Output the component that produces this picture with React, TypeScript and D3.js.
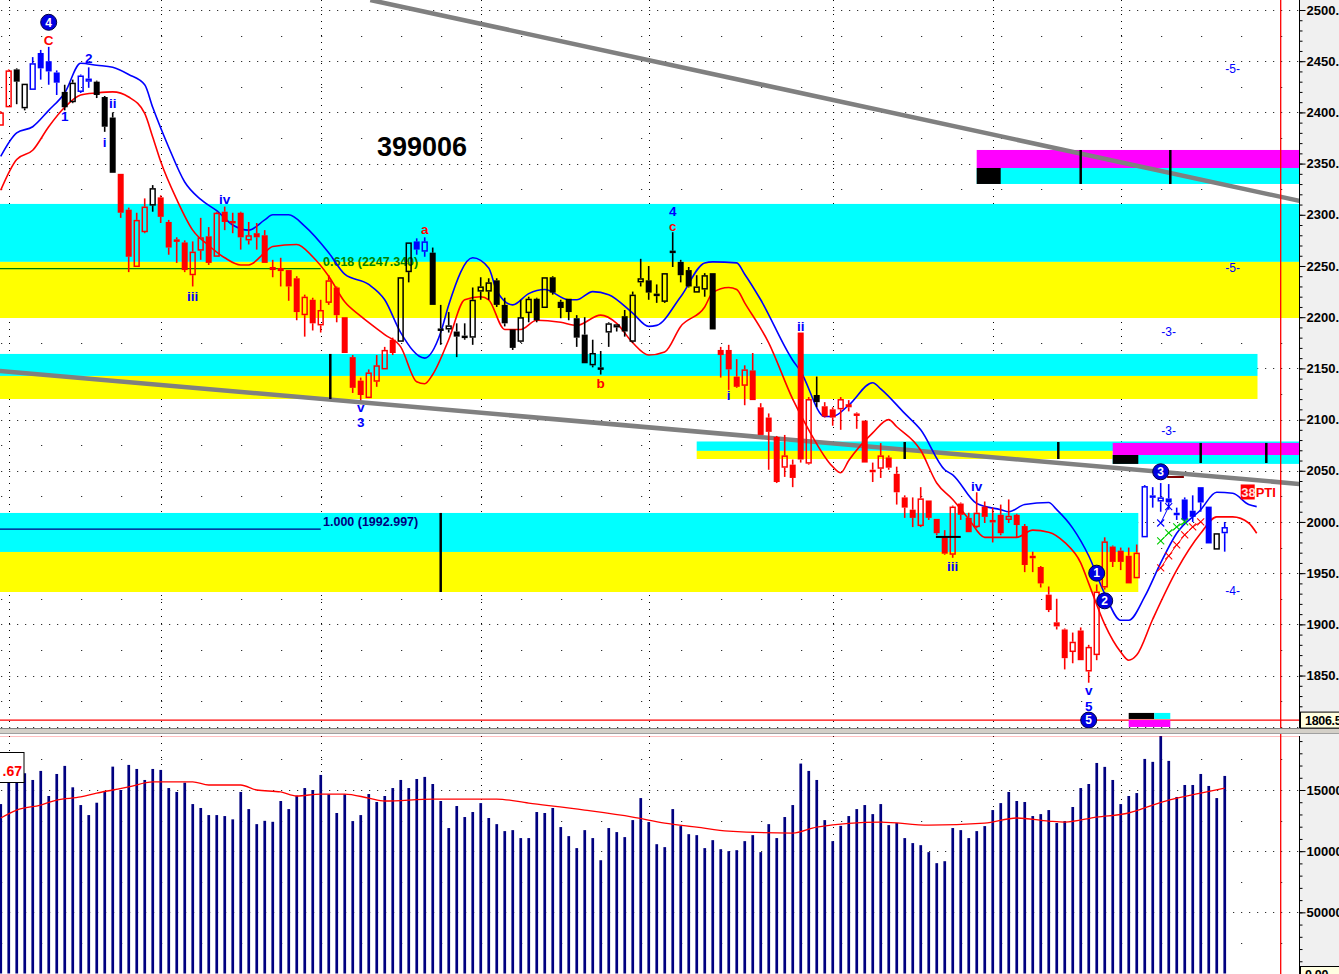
import React, { useEffect, useRef } from 'react';
import * as d3 from 'd3';

const W = 1339;
const H = 974;
const PLOT_R = 1299;
const MAIN_BOTTOM = 728;
const VOL_TOP = 736;
const FONT = "Arial, 'Liberation Sans', sans-serif";

// daily OHLC (index 0 = leftmost bar)
const opens = [
  2387, 2405, 2442, 2404, 2422, 2458, 2450, 2439, 2420, 2410,
  2420, 2430, 2430, 2415, 2395, 2340, 2305, 2249, 2283, 2309,
  2317, 2293, 2276, 2273, 2241, 2265, 2279, 2259, 2303, 2294,
  2302, 2275, 2282, 2280, 2249, 2248, 2246, 2238, 2202, 2217,
  2192, 2214, 2229, 2200, 2161, 2138, 2121, 2137, 2149, 2178,
  2176, 2244, 2274, 2264, 2263, 2189, 2188, 2186, 2182, 2180,
  2225, 2225, 2236, 2212, 2188, 2176, 2204, 2218, 2209, 2239,
  2215, 2218, 2199, 2183, 2153, 2151, 2185, 2190, 2201, 2176,
  2234, 2236, 2223, 2215, 2265, 2254, 2246, 2224, 2227, 2243,
  2168, 2168, 2142, 2133, 2148, 2112, 2102, 2083, 2053, 2056,
  2185, 2057, 2124, 2113, 2110, 2110, 2115, 2106, 2099, 2051,
  2052, 2063, 2047, 2024, 2012, 1996, 2021, 2003, 1985, 1968,
  2018, 2004, 1995, 2015, 2002, 2007, 2002, 2007, 1996, 1967,
  1956, 1929, 1902, 1895, 1873, 1894, 1854, 1870, 1936, 1976,
  1972, 1967, 1945, 1985, 2026, 2020, 2023, 2009, 2022, 2011,
  2034, 2015, 1973, 1989,
];
const highs = [
  2401, 2442, 2443, 2428, 2454, 2461, 2464, 2441, 2427, 2432,
  2437, 2444, 2431, 2416, 2400, 2340, 2307, 2302, 2316, 2329,
  2319, 2295, 2278, 2275, 2274, 2297, 2288, 2303, 2308, 2302,
  2303, 2293, 2292, 2285, 2256, 2258, 2246, 2240, 2222, 2219,
  2217, 2241, 2230, 2200, 2163, 2141, 2149, 2163, 2171, 2180,
  2239, 2273, 2277, 2278, 2268, 2212, 2205, 2194, 2194, 2229,
  2239, 2238, 2238, 2219, 2188, 2217, 2220, 2219, 2239, 2240,
  2217, 2218, 2202, 2200, 2178, 2167, 2195, 2193, 2207, 2225,
  2257, 2250, 2232, 2243, 2283, 2256, 2249, 2241, 2243, 2243,
  2171, 2173, 2159, 2153, 2165, 2116, 2106, 2084, 2085, 2061,
  2185, 2122, 2142, 2117, 2112, 2122, 2119, 2107, 2099, 2058,
  2077, 2065, 2054, 2026, 2024, 2034, 2021, 2003, 1992, 2016,
  2019, 2009, 2029, 2020, 2014, 2017, 2022, 2008, 1998, 1971,
  1957, 1937, 1925, 1896, 1892, 1897, 1880, 1939, 1985, 1977,
  1975, 1975, 1978, 2036, 2034, 2038, 2037, 2014, 2024, 2026,
  2034, 2015, 1989, 2000,
];
const lows = [
  2387, 2405, 2408, 2402, 2422, 2432, 2427, 2417, 2402, 2409,
  2419, 2424, 2414, 2381, 2341, 2297, 2244, 2249, 2282, 2303,
  2292, 2261, 2253, 2244, 2230, 2256, 2251, 2259, 2285, 2282,
  2266, 2271, 2266, 2253, 2239, 2230, 2216, 2197, 2181, 2187,
  2185, 2212, 2195, 2165, 2126, 2119, 2121, 2132, 2149, 2163,
  2176, 2234, 2261, 2259, 2212, 2173, 2185, 2161, 2178, 2173,
  2217, 2217, 2210, 2191, 2168, 2175, 2195, 2195, 2209, 2222,
  2199, 2197, 2171, 2155, 2151, 2144, 2171, 2186, 2181, 2175,
  2230, 2217, 2214, 2214, 2249, 2234, 2229, 2224, 2220, 2188,
  2141, 2129, 2131, 2114, 2119, 2085, 2051, 2038, 2044, 2034,
  2058, 2056, 2112, 2102, 2094, 2090, 2108, 2091, 2058, 2039,
  2043, 2051, 2017, 2004, 1995, 1995, 2002, 1987, 1968, 1965,
  2002, 1990, 1994, 1999, 1980, 1987, 1999, 1985, 1951, 1951,
  1936, 1912, 1895, 1856, 1862, 1865, 1843, 1865, 1934, 1956,
  1953, 1940, 1945, 1985, 2014, 2010, 2012, 2002, 1999, 2000,
  2010, 1979, 1973, 1971,
];
const closes = [
  2400, 2441, 2430, 2428, 2448, 2443, 2440, 2429, 2405, 2429,
  2436, 2433, 2417, 2386, 2341, 2302, 2259, 2295, 2308, 2326,
  2298, 2268, 2275, 2246, 2264, 2278, 2253, 2302, 2293, 2292,
  2278, 2280, 2278, 2253, 2246, 2245, 2230, 2205, 2220, 2194,
  2207, 2236, 2202, 2165, 2131, 2124, 2146, 2153, 2168, 2165,
  2239, 2273, 2266, 2274, 2212, 2187, 2192, 2181, 2180, 2217,
  2230, 2234, 2212, 2194, 2170, 2200, 2218, 2197, 2239, 2224,
  2209, 2205, 2180, 2155, 2165, 2149, 2194, 2193, 2186, 2222,
  2238, 2224, 2221, 2243, 2263, 2241, 2230, 2230, 2241, 2188,
  2163, 2149, 2132, 2149, 2119, 2085, 2088, 2039, 2065, 2043,
  2061, 2120, 2117, 2103, 2102, 2120, 2112, 2104, 2058, 2049,
  2065, 2053, 2029, 2014, 2004, 2023, 2004, 1989, 1969, 2015,
  2007, 1990, 2009, 2005, 2000, 1989, 2006, 1997, 1958, 1965,
  1940, 1914, 1898, 1867, 1883, 1865, 1878, 1932, 1981, 1961,
  1961, 1940, 1970, 2035, 2024, 2024, 2019, 2007, 2002, 2005,
  2019, 1979, 1989, 1995,
];
// bar colour per candle: r = red, k = black, b = blue
const tones = [
  'rrkkbbbbkkbbkkkrrrrk',
  'rrrrrrrrrrrrrrrrrrrrrrrrrrrrrr',
  'kkbbkkkkkkkkkkkkkkkkkkkkkkkkkkkkkkkkkkkk',
  'rrrrrrrrrrrrk',
  'rrrrrrrrrrrrrrrrrrrrrrrrrrrrrrrrrrrrrrrr',
  'bbbbbbbbbkb',
].join('');

const volumes = [
  138500, 156800, 156000, 163700, 158200, 165600, 145100, 163100, 169700, 152200,
  137700, 129500, 139600, 149200, 169100, 150000, 170500, 167200, 158200, 167200,
  166400, 151600, 148400, 156000, 138500, 135300, 129500, 129500, 128700, 126000,
  148400, 134400, 122100, 124800, 124000, 141000, 134400, 145300, 151600, 150000,
  162300, 146500, 131200, 146500, 124600, 129500, 146700, 140200, 145100, 151600,
  158200, 151600, 159000, 160700, 154900, 141000, 118900, 136900, 127900, 132000,
  139300, 127100, 122100, 116400, 117200, 110700, 110700, 132000, 131200, 135300,
  119700, 112300, 102500, 117200, 110700, 92600, 118900, 115600, 111500, 125400,
  143400, 123800, 105700, 103300, 134400, 120500, 113900, 113100, 102500, 109000,
  101600, 100000, 100800, 108200, 113100, 99200, 122100, 110700, 127900, 137700,
  171600, 165600, 158200, 125400, 108200, 120700, 128700, 134400, 137700, 130300,
  138500, 121300, 123000, 110700, 106600, 104900, 99200, 90200, 91800, 118900,
  117200, 110700, 116400, 120500, 133600, 139300, 148400, 141000, 140200, 128700,
  130300, 133600, 123000, 124600, 136100, 151600, 154900, 172100, 168900, 158200,
  138500, 145100, 147500, 175400, 173000, 195100, 173800, 144300, 154100, 154100,
  163100, 153300, 143400, 161500,
];

// moving averages [bar index, value]
const maBlue: [number, number][] = [
  [0, 2357], [2, 2380], [4, 2386], [6, 2402], [8, 2419], [10, 2448], [12, 2446], [14, 2444],
  [16, 2437], [18, 2427], [19, 2405], [21, 2366], [23, 2332], [25, 2315], [27, 2304], [29, 2290],
  [31, 2285], [33, 2295], [34, 2300], [36, 2300], [38, 2289], [41, 2263], [43, 2242], [46, 2232],
  [48, 2217], [50, 2185], [53, 2160], [55, 2185], [56, 2212], [59, 2258], [61, 2248], [62, 2226],
  [64, 2212], [66, 2223], [68, 2227], [71, 2217], [72, 2217], [74, 2225], [76, 2222], [79, 2204],
  [81, 2191], [82, 2192], [85, 2220], [88, 2253], [89, 2254], [92, 2253], [93, 2242], [95, 2217],
  [99, 2158], [100, 2147], [103, 2103], [104, 2103], [106, 2114], [109, 2136], [110, 2130],
  [113, 2106], [115, 2090], [118, 2051], [119, 2046], [122, 2018], [125, 2012], [126, 2010],
  [128, 2017], [131, 2019], [132, 2012], [134, 1994], [136, 1967], [138, 1930], [140, 1904],
  [141, 1904], [143, 1927], [145, 1960], [147, 1989], [150, 2012], [152, 2029], [154, 2028],
  [156, 2017], [157, 2015],
];
const maRed: [number, number][] = [
  [0, 2324], [2, 2354], [4, 2363], [6, 2386], [8, 2405], [10, 2417], [12, 2419], [14, 2420],
  [16, 2415], [18, 2399], [19, 2376], [20, 2352], [22, 2315], [24, 2285], [26, 2270], [28, 2258],
  [30, 2251], [31, 2251], [33, 2263], [34, 2269], [37, 2271], [39, 2259], [41, 2240], [43, 2215],
  [45, 2201], [48, 2183], [50, 2171], [52, 2137], [53, 2135], [54, 2144], [56, 2178], [58, 2217],
  [60, 2220], [61, 2217], [63, 2188], [65, 2188], [67, 2197], [70, 2195], [72, 2192], [75, 2202],
  [77, 2194], [79, 2175], [81, 2163], [83, 2166], [85, 2191], [88, 2210], [89, 2224], [91, 2229],
  [92, 2227], [93, 2214], [96, 2175], [99, 2120], [101, 2090], [104, 2054], [105, 2048],
  [106, 2060], [109, 2087], [111, 2100], [112, 2093], [115, 2070], [117, 2038], [119, 2022],
  [121, 2003], [123, 1985], [125, 1985], [127, 1985], [129, 1992], [131, 1990], [133, 1980],
  [135, 1960], [136, 1940], [138, 1900], [140, 1873], [141, 1865], [142, 1870], [144, 1905],
  [147, 1953], [150, 1989], [152, 2005], [154, 2005], [156, 1999], [157, 1989],
];
const maVolume: [number, number][] = [
  [0, 127100], [2, 133600], [5, 137700], [7, 141800], [10, 144300], [12, 147500], [14, 150000],
  [16, 152500], [19, 156600], [24, 156600], [26, 154100], [30, 154100], [32, 150000], [35, 148400],
  [37, 145100], [40, 146700], [43, 146700], [46, 143400], [48, 141000], [54, 142600], [62, 142600],
  [66, 139300], [73, 133600], [79, 127900], [83, 123000], [87, 119700], [91, 116400], [99, 114800],
  [102, 119700], [110, 123800], [116, 121300], [123, 123000], [127, 127100], [131, 124600],
  [133, 123800], [137, 127900], [141, 131200], [144, 137700], [146, 141800], [150, 147500],
  [153, 151600],
];

// shaded zones: [from bar, to bar, top price, bottom price, colour]
const zones: [number, number, number, number, string][] = [
  [-1, 163, 2310.6, 2254.0, '#00ffff'],
  [-1, 163, 2254.0, 2199.2, '#ffff00'],
  [-1, 157.1, 2164.1, 2142.6, '#00ffff'],
  [-1, 157.1, 2142.6, 2120.1, '#ffff00'],
  [-1, 142.2, 2008.8, 1970.7, '#00ffff'],
  [-1, 142.2, 1970.7, 1931.6, '#ffff00'],
  [122, 163, 2363.3, 2345.7, '#ff00ff'],
  [122, 163, 2345.7, 2330.1, '#00ffff'],
  [122, 125, 2345.7, 2330.1, '#000000'],
  [87, 163, 2078.6, 2069.4, '#00ffff'],
  [87, 139, 2069.4, 2061.5, '#ffff00'],
  [139, 163, 2077.2, 2065.4, '#ff00ff'],
  [139, 163, 2065.4, 2056.7, '#00ffff'],
  [139, 142.2, 2065.4, 2056.7, '#000000'],
];
const footZones: [number, number, number, number, string][] = [
  [141, 146.2, 1806.6, 1799.8, '#ff00ff'],
  [141, 144.2, 1813.5, 1807.6, '#000000'],
  [144.2, 146.2, 1813.5, 1807.6, '#00ffff'],
];
// black vertical markers: [bar, top price, bottom price]
const markers: [number, number, number][] = [
  [41.2, 2164.1, 2120.1], [55, 2008.8, 1931.6], [113, 2078.1, 2061.5], [132.2, 2078.1, 2061.5],
  [135, 2363.3, 2330.1], [146.2, 2363.3, 2330.1], [150, 2077.2, 2057.6], [158.2, 2077.2, 2057.6],
];
// trend lines: [bar0, price0, bar1, price1]
const trends: [number, number, number, number][] = [
  [46.2, 2509.8, 162.4, 2313.5],
  [-0.1, 2147.5, 162.4, 2037.1],
];
const fibs = [
  { label: '0.618 (2247.340)', value: 2247.34, color: '#008000' },
  { label: '1.000 (1992.997)', value: 1992.997, color: '#000080' },
];
const waveLabels: [string, number, number, string][] = [
  ['C', 6, 2471, 'r'], ['2', 11, 2453, 'b'], ['1', 8, 2396, 'b'], ['ii', 14, 2409, 'b'],
  ['i', 13, 2371, 'b'], ['iv', 28, 2315, 'b'], ['iii', 24, 2221, 'b'], ['a', 53, 2286, 'r'],
  ['v', 45, 2112.5, 'b'], ['3', 45, 2097.5, 'b'], ['b', 75, 2136, 'r'], ['4', 84, 2304, 'b'],
  ['c', 84, 2289, 'r'], ['ii', 100, 2191, 'b'], ['i', 91, 2124, 'b'], ['iv', 122, 2035, 'b'],
  ['iii', 119, 1957, 'b'], ['v', 136, 1835.5, 'b'], ['5', 136, 1820.5, 'b'],
];
const circleLabels: [string, number, number][] = [
  ['4', 6, 2488], ['1', 137, 1950], ['2', 138, 1923], ['3', 145, 2049], ['5', 136, 1806.5],
];
const targetLabels: [string, number, number][] = [
  ['-5-', 154, 2443], ['-5-', 154, 2248], ['-3-', 146, 2186], ['-3-', 146, 2089], ['-4-', 154, 1933],
];
const crossBlue: [number, number][] = [[145, 1999], [146, 2015]];
const crossGreen: [number, number][] = [[145, 1981.5], [146, 1989.3], [147, 1995.1], [148, 2000]];
const crossRed: [number, number][] = [[145, 1955.1], [146, 1966.8], [147, 1977.6], [148, 1987.3], [149, 1995.1], [150, 2000]];
const monthBars = [1, 20, 40, 60, 81, 104, 124, 140];

const toneColor: Record<string, string> = { r: '#ff0000', k: '#000000', b: '#0000ff' };

const App: React.FC = () => {
  const svgRef = useRef<SVGSVGElement>(null);

  useEffect(() => {
    if (!svgRef.current) return;
    document.body.style.margin = '0';
    const svg = d3.select(svgRef.current);
    svg.selectAll('*').remove();

    const x = d3.scaleLinear().domain([0, 162]).range([0.7, 1296.7]);
    const y = d3.scaleLinear().domain([1806.5, 2500]).range([720.1, 10]);
    const yv = d3.scaleLinear().domain([0, 150000]).range([973.5, 790]);

    const defs = svg.append('defs');
    defs.append('clipPath').attr('id', 'clipMain')
      .append('rect').attr('x', 0).attr('y', 0).attr('width', PLOT_R).attr('height', MAIN_BOTTOM);
    defs.append('clipPath').attr('id', 'clipVol')
      .append('rect').attr('x', 0).attr('y', VOL_TOP).attr('width', PLOT_R).attr('height', H - VOL_TOP);

    svg.append('rect').attr('width', W).attr('height', H).attr('fill', '#ffffff');
    svg.append('rect').attr('x', PLOT_R + 1).attr('width', W - PLOT_R).attr('height', H).attr('fill', '#f0f0f0');

    // ---------- price panel ----------
    const main = svg.append('g').attr('clip-path', 'url(#clipMain)');

    // dotted grid
    d3.range(1800, 2501, 25).forEach(v => {
      const yy = Math.round(y(v)) + 0.5;
      main.append('line').attr('x1', 1.2).attr('x2', PLOT_R).attr('y1', yy).attr('y2', yy)
        .attr('stroke', '#000').attr('stroke-width', 1)
        .attr('stroke-dasharray', v % 50 === 0 ? '1 7' : '1 39');
    });
    monthBars.forEach(b => {
      const xx = Math.round(x(b)) + 0.5;
      main.append('line').attr('x1', xx).attr('x2', xx).attr('y1', 0).attr('y2', MAIN_BOTTOM)
        .attr('stroke', '#000').attr('stroke-dasharray', '1 6');
    });

    // zones
    main.selectAll('rect.zone').data(zones).join('rect').attr('class', 'zone')
      .attr('x', d => x(d[0])).attr('width', d => x(d[1]) - x(d[0]))
      .attr('y', d => y(d[2])).attr('height', d => y(d[3]) - y(d[2]))
      .attr('fill', d => d[4]);

    // trend lines
    main.selectAll('line.trend').data(trends).join('line').attr('class', 'trend')
      .attr('x1', d => x(d[0])).attr('y1', d => y(d[1]))
      .attr('x2', d => x(d[2])).attr('y2', d => y(d[3]))
      .attr('stroke', '#808080').attr('stroke-width', 4.5);

    // fib levels
    fibs.forEach(f => {
      main.append('line').attr('x1', 0).attr('x2', x(40)).attr('y1', y(f.value)).attr('y2', y(f.value))
        .attr('stroke', f.color).attr('stroke-width', 1.2);
      main.append('text').attr('x', 323).attr('y', y(f.value) - 3)
        .attr('font-family', FONT).attr('font-weight', 'bold').attr('font-size', 12.5)
        .attr('fill', f.color).text(f.label);
    });

    // black markers
    main.selectAll('line.mark').data(markers).join('line').attr('class', 'mark')
      .attr('x1', d => x(d[0])).attr('x2', d => x(d[0]))
      .attr('y1', d => y(d[1])).attr('y2', d => y(d[2]))
      .attr('stroke', '#000').attr('stroke-width', 2.5);

    // moving averages
    const line = d3.line<[number, number]>().x(d => x(d[0])).y(d => y(d[1])).curve(d3.curveMonotoneX);
    main.append('path').attr('d', line(maBlue)).attr('fill', 'none').attr('stroke', '#0000ff').attr('stroke-width', 1.6);
    main.append('path').attr('d', line(maRed)).attr('fill', 'none').attr('stroke', '#ff0000').attr('stroke-width', 1.6);

    // candles
    const candles = main.append('g');
    opens.forEach((o, i) => {
      const c = closes[i];
      const col = toneColor[tones[i]];
      const cx = x(i);
      const top = y(Math.max(o, c));
      let bot = y(Math.min(o, c));
      if (bot - top < 2.5) bot = top + 2.5;
      const g = candles.append('g');
      g.append('line').attr('x1', cx).attr('x2', cx).attr('y1', y(highs[i])).attr('y2', top)
        .attr('stroke', col).attr('stroke-width', 1.6);
      g.append('line').attr('x1', cx).attr('x2', cx).attr('y1', bot).attr('y2', y(lows[i]))
        .attr('stroke', col).attr('stroke-width', 1.6);
      if (c > o) {
        g.append('rect').attr('x', cx - 2.4).attr('y', top + 0.7).attr('width', 4.8).attr('height', Math.max(bot - top - 1.4, 1))
          .attr('fill', 'none').attr('stroke', col).attr('stroke-width', 1.5);
      } else {
        g.append('rect').attr('x', cx - 3).attr('y', top).attr('width', 6).attr('height', bot - top).attr('fill', col);
      }
    });

    // projection crosses
    const crossLine = d3.line<[number, number]>().x(d => x(d[0])).y(d => y(d[1]));
    ([[crossBlue, '#0000ff'], [crossGreen, '#00cc00'], [crossRed, '#ff0000']] as [[number, number][], string][])
      .forEach(([pts, col]) => {
        main.append('path').attr('d', crossLine(pts)).attr('fill', 'none').attr('stroke', col).attr('stroke-width', 1);
        pts.forEach(p => {
          const px = x(p[0]), py = y(p[1]);
          main.append('path').attr('d', `M${px - 3.5},${py - 3.5}L${px + 3.5},${py + 3.5}M${px - 3.5},${py + 3.5}L${px + 3.5},${py - 3.5}`)
            .attr('stroke', col).attr('stroke-width', 1.1);
        });
      });

    // short level ticks
    main.append('line').attr('x1', x(145.8)).attr('x2', x(147.9)).attr('y1', y(2043.9)).attr('y2', y(2043.9))
      .attr('stroke', '#800000').attr('stroke-width', 2);
    main.append('line').attr('x1', x(116.9)).attr('x2', x(120)).attr('y1', y(1985.4)).attr('y2', y(1985.4))
      .attr('stroke', '#000').attr('stroke-width', 2);

    // last-price line
    main.append('line').attr('x1', 0).attr('x2', PLOT_R).attr('y1', y(1806.5)).attr('y2', y(1806.5))
      .attr('stroke', '#ff0000').attr('stroke-width', 1.4);
    main.selectAll('rect.foot').data(footZones).join('rect').attr('class', 'foot')
      .attr('x', d => x(d[0])).attr('width', d => x(d[1]) - x(d[0]))
      .attr('y', d => y(d[2])).attr('height', d => y(d[3]) - y(d[2]))
      .attr('fill', d => d[4]);

    // labels
    main.append('text').attr('x', 377).attr('y', 156).attr('font-family', FONT).attr('font-weight', 'bold')
      .attr('font-size', 27).attr('fill', '#000').text('399006');
    waveLabels.forEach(([t, i, p, c]) => {
      main.append('text').attr('x', x(i)).attr('y', y(p)).attr('text-anchor', 'middle').attr('dy', '0.36em')
        .attr('font-family', FONT).attr('font-weight', 'bold').attr('font-size', 13.5)
        .attr('fill', c === 'r' ? '#ff0000' : '#0000ff').text(t);
    });
    targetLabels.forEach(([t, i, p]) => {
      main.append('text').attr('x', x(i)).attr('y', y(p)).attr('text-anchor', 'middle').attr('dy', '0.36em')
        .attr('font-family', FONT).attr('font-size', 12).attr('fill', '#0000ff').text(t);
    });
    circleLabels.forEach(([t, i, p]) => {
      main.append('circle').attr('cx', x(i)).attr('cy', y(p)).attr('r', 8)
        .attr('fill', '#0000e0').attr('stroke', '#000040').attr('stroke-width', 1);
      main.append('text').attr('x', x(i)).attr('y', y(p)).attr('text-anchor', 'middle').attr('dy', '0.36em')
        .attr('font-family', FONT).attr('font-weight', 'bold').attr('font-size', 12).attr('fill', '#ffffff').text(t);
    });
    main.append('rect').attr('x', x(155)).attr('y', y(2029.3) - 7.5).attr('width', 14).attr('height', 15).attr('fill', '#ff0000');
    main.append('text').attr('x', x(155) + 0.5).attr('y', y(2029.3)).attr('dy', '0.36em')
      .attr('font-family', FONT).attr('font-weight', 'bold').attr('font-size', 13).attr('fill', '#ffe0e0').text('38');
    main.append('text').attr('x', x(155) + 15).attr('y', y(2029.3)).attr('dy', '0.36em')
      .attr('font-family', FONT).attr('font-weight', 'bold').attr('font-size', 13).attr('fill', '#ff0000').text('PTI');

    // ---------- volume panel ----------
    const vol = svg.append('g').attr('clip-path', 'url(#clipVol)');
    d3.range(25000, 200001, 25000).forEach(v => {
      const yy = Math.round(yv(v)) + 0.5;
      vol.append('line').attr('x1', 1.2).attr('x2', PLOT_R).attr('y1', yy).attr('y2', yy)
        .attr('stroke', '#000').attr('stroke-dasharray', v % 50000 === 0 ? '1 7' : '1 39');
    });
    monthBars.forEach(b => {
      const xx = Math.round(x(b)) + 0.5;
      vol.append('line').attr('x1', xx).attr('x2', xx).attr('y1', VOL_TOP).attr('y2', H)
        .attr('stroke', '#000').attr('stroke-dasharray', '1 6');
    });
    vol.selectAll('rect.vbar').data(volumes).join('rect').attr('class', 'vbar')
      .attr('x', (_, i) => x(i) - 1.3).attr('width', 2.7)
      .attr('y', d => yv(d)).attr('height', d => yv(0) - yv(d))
      .attr('fill', '#000080');
    const vline = d3.line<[number, number]>().x(d => x(d[0])).y(d => yv(d[1])).curve(d3.curveMonotoneX);
    vol.append('path').attr('d', vline(maVolume)).attr('fill', 'none').attr('stroke', '#ff0000').attr('stroke-width', 1.3);
    vol.append('rect').attr('x', -5).attr('y', 752.5).attr('width', 29).attr('height', 30)
      .attr('fill', '#ffffff').attr('stroke', '#000').attr('stroke-width', 1);
    vol.append('text').attr('x', 22).attr('y', 776).attr('text-anchor', 'end')
      .attr('font-family', FONT).attr('font-weight', 'bold').attr('font-size', 14).attr('fill', '#ff0000').text('.67');
    vol.append('line').attr('x1', 0).attr('x2', PLOT_R).attr('y1', VOL_TOP - 0.5).attr('y2', VOL_TOP - 0.5)
      .attr('stroke', '#ff0000').attr('stroke-width', 1.5);

    // red time cursor
    svg.append('line').attr('x1', x(160)).attr('x2', x(160)).attr('y1', 0).attr('y2', H)
      .attr('stroke', '#ff0000').attr('stroke-width', 1.3);

    // panel separator
    svg.append('rect').attr('x', 0).attr('y', MAIN_BOTTOM).attr('width', W).attr('height', 6).attr('fill', '#d4d0c8');
    svg.append('line').attr('x1', 0).attr('x2', W).attr('y1', MAIN_BOTTOM + 0.5).attr('y2', MAIN_BOTTOM + 0.5).attr('stroke', '#808080');
    svg.append('line').attr('x1', 0).attr('x2', W).attr('y1', MAIN_BOTTOM + 5.5).attr('y2', MAIN_BOTTOM + 5.5).attr('stroke', '#a0a0a0');

    // ---------- axes ----------
    const styleAxis = (g: d3.Selection<SVGGElement, unknown, null, undefined>) => {
      g.selectAll('text').attr('font-family', FONT).attr('font-weight', 'bold').attr('font-size', 13).attr('fill', '#000');
      g.selectAll('line').attr('stroke', '#000');
      g.select('.domain').attr('stroke', '#000');
    };
    svg.append('g').attr('transform', `translate(${PLOT_R + 0.5},0)`)
      .call(d3.axisRight(y).tickValues(d3.range(1810, 2501, 10)).tickSize(3).tickFormat(() => '').tickSizeOuter(0))
      .call(g => g.select('.domain').remove())
      .call(styleAxis);
    svg.append('g').attr('transform', `translate(${PLOT_R + 0.5},0)`)
      .call(d3.axisRight(y).tickValues(d3.range(1850, 2501, 50)).tickSize(6).tickPadding(1)
        .tickFormat(d => (d as number).toFixed(2)).tickSizeOuter(0))
      .call(g => g.select('.domain').remove())
      .call(styleAxis);
    svg.append('line').attr('x1', PLOT_R + 0.5).attr('x2', PLOT_R + 0.5).attr('y1', 0).attr('y2', MAIN_BOTTOM).attr('stroke', '#000');

    svg.append('g').attr('transform', `translate(${PLOT_R + 0.5},0)`)
      .call(d3.axisRight(yv).tickValues(d3.range(10000, 190001, 10000)).tickSize(3).tickFormat(() => '').tickSizeOuter(0))
      .call(g => g.select('.domain').remove())
      .call(styleAxis);
    svg.append('g').attr('transform', `translate(${PLOT_R + 0.5},0)`)
      .call(d3.axisRight(yv).tickValues([50000, 100000, 150000]).tickSize(6).tickPadding(1)
        .tickFormat(d => (d as number).toFixed(2)).tickSizeOuter(0))
      .call(g => g.select('.domain').remove())
      .call(styleAxis);
    svg.append('line').attr('x1', PLOT_R + 0.5).attr('x2', PLOT_R + 0.5).attr('y1', VOL_TOP).attr('y2', H).attr('stroke', '#000');

    // value boxes on the scale
    const box = (v: number, yy: number) => {
      svg.append('rect').attr('x', PLOT_R + 1.5).attr('y', yy - 8).attr('width', 45).attr('height', 16)
        .attr('fill', '#ffffe1').attr('stroke', '#000');
      svg.append('text').attr('x', PLOT_R + 6).attr('y', yy).attr('dy', '0.36em')
        .attr('font-family', FONT).attr('font-weight', 'bold').attr('font-size', 12.5)
        .attr('letter-spacing', -0.3).attr('fill', '#000')
        .text(v.toFixed(2));
    };
    box(1806.5, y(1806.5));
    box(0, yv(0) + 1);
  }, []);

  return (
    <svg ref={svgRef} width={W} height={H}
      style={{ position: 'absolute', left: 0, top: 0, display: 'block' }} />
  );
};

export default App;
